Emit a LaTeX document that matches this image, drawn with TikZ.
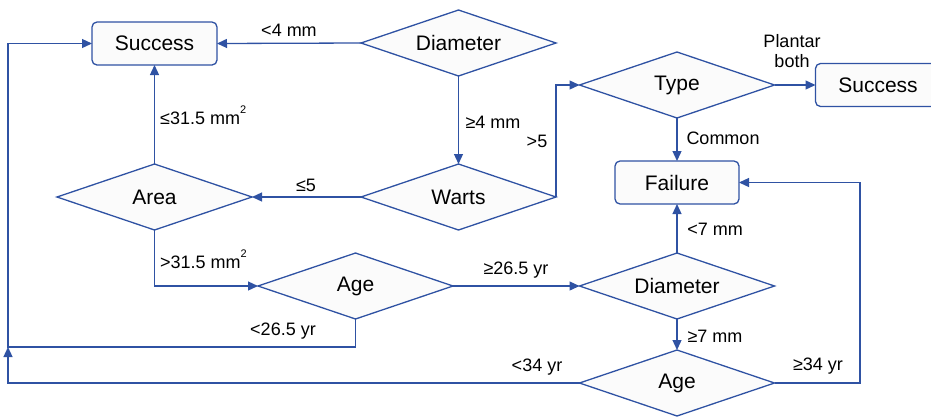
\documentclass[tikz,border=0pt]{standalone}
\usepackage{fontspec}
\setmainfont{Liberation Sans}
\usetikzlibrary{shapes.geometric,arrows.meta}
\definecolor{lc}{HTML}{2F52A3}
\definecolor{fc}{HTML}{FBFBFB}
\newcommand{\mysq}{\raisebox{1.15ex}{\fontsize{11}{11}\selectfont 2}}
\begin{document}
\begin{tikzpicture}[x=1pt,y=-1pt,
  dia/.style={shape=diamond, draw=lc, fill=fc, line width=1.3pt, minimum width=195pt, minimum height=66pt, inner sep=0pt, outer sep=0pt, shape aspect=2.95, font=\fontsize{21}{24}\selectfont},
  box/.style={rectangle, rounded corners=5pt, draw=lc, fill=fc, line width=1.3pt, minimum width=125pt, minimum height=43pt, inner sep=0pt, outer sep=0pt, font=\fontsize{21}{24}\selectfont},
  conn/.style={draw=lc, line width=1.3pt, -{Triangle[length=10pt,width=9pt]}},
  lbl/.style={font=\fontsize{18}{21}\selectfont, inner sep=0pt, align=center}
]
\clip (0,0) rectangle (931,416);
\useasboundingbox (0,0) rectangle (931,416);
\node[box] (s1) at (154.5,43.5) {Success};
\node[dia] (d1) at (458.5,43) {Diameter};
\node[dia] (w) at (458.5,197) {Warts};
\node[dia] (a) at (154.5,197) {Area};
\node[dia] (t) at (677,85) {Type};
\node[box] (s2) at (878,85) {Success};
\node[box, minimum width=124pt] (f) at (677,182.5) {Failure};
\node[dia] (g1) at (355.5,286) {Age};
\node[dia] (d2) at (677,286) {Diameter};
\node[dia] (g2) at (677,383) {Age};
\coordinate (c1) at (8,347);
\coordinate (c2) at (860,182.5);

\draw[conn] (d1.west) -- (s1.east);
\draw[conn] (d1.south) -- (w.north);
\draw[conn] (w.west) -- (a.east);
\draw[conn] (w.east) -- (w.east |- t.west) -- (t.west);
\draw[conn] (a.north) -- (s1.south);
\draw[conn] (t.east) -- (s2.west);
\draw[conn] (t.south) -- (f.north);
\draw[conn] (a.south) |- (g1.west);
\draw[conn] (g1.east) -- (d2.west);
\draw[conn] (g1.south) -- (g1.south |- c1) -- (c1) |- (s1.west);
\draw[conn] (g2.west) -| (c1);
\draw[conn] (d2.north) -- (f.south);
\draw[conn] (d2.south) -- (g2.north);
\draw[conn] (g2.east) -| (c2) -- (f.east);

\node[lbl] (l1) at (289,30) {<4 mm};
\node[lbl] (l2) at (493,122) {≥4 mm};
\node[lbl] (l3) at (537,141) {>5};
\node[lbl] (l4) at (306,185) {≤5};
\node[lbl, anchor=base west] (l5) at (160,124) {≤31.5 mm\mysq};
\node[lbl, font=\fontsize{18}{20}\selectfont] (l6) at (792,51) {Plantar\\both};
\node[lbl] (l7) at (723,138) {Common};
\node[lbl, anchor=base west] (l8) at (160,268) {>31.5 mm\mysq};
\node[lbl] (l9) at (516,270) {≥26.5 yr};
\node[lbl] (l10) at (283,331) {<26.5 yr};
\node[lbl] (l11) at (537,367) {<34 yr};
\node[lbl] (l12) at (715,229) {<7 mm};
\node[lbl] (l13) at (715,336) {≥7 mm};
\node[lbl] (l14) at (818,366) {≥34 yr};
\end{tikzpicture}
\end{document}
